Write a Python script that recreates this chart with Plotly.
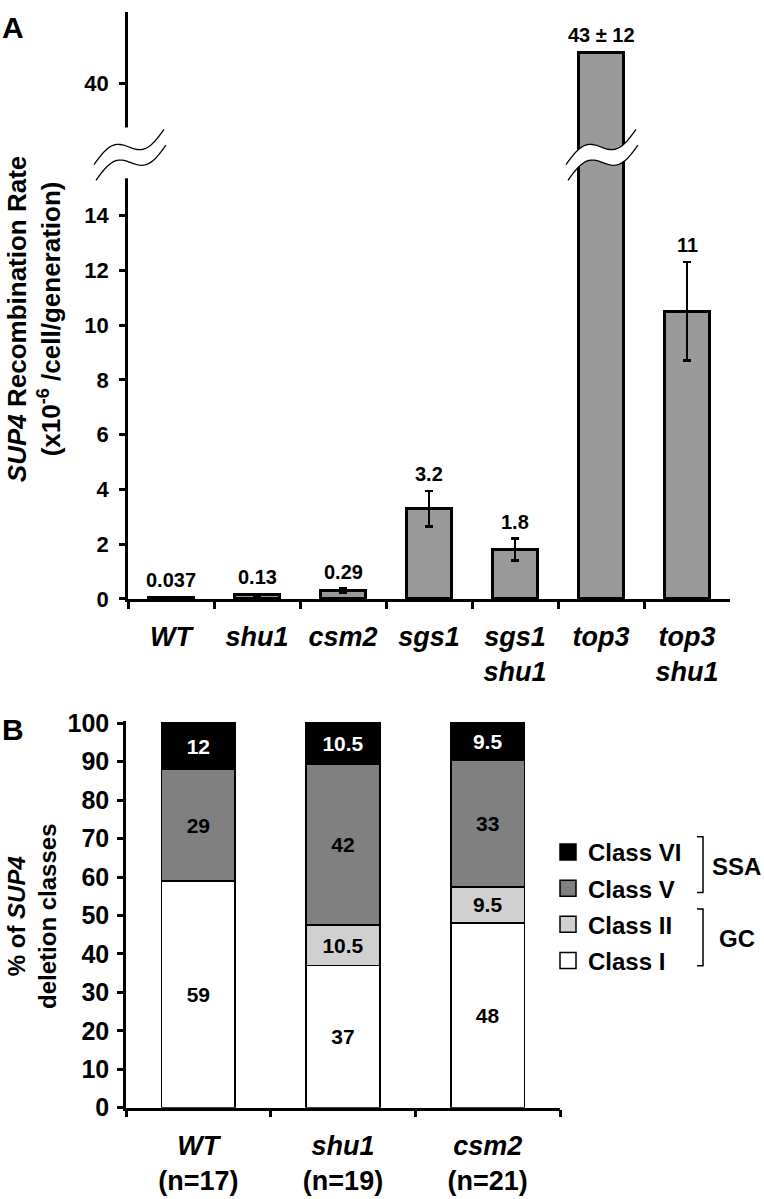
import math
import plotly.graph_objects as go

# ---------------- data ----------------
strains = ["WT", "shu1", "csm2", "sgs1", "sgs1 shu1", "top3", "top3 shu1"]
strain_ticks = ["<i>WT</i>", "<i>shu1</i>", "<i>csm2</i>", "<i>sgs1</i>",
                "<i>sgs1</i><br><i>shu1</i>", "<i>top3</i>", "<i>top3</i><br><i>shu1</i>"]
rate = [0.04, 0.15, 0.3, 3.3, 1.8, 43, 10.5]
rate_err = [0.02, 0.04, 0.08, 0.65, 0.4, 0, 1.8]
rate_labels = ["0.037", "0.13", "0.29", "3.2", "1.8", "43 ± 12", "11"]
lower_ticks = [0, 2, 4, 6, 8, 10, 12, 14]
upper_ticks = [40]

b_strains = ["WT", "shu1", "csm2"]
b_ticks = ["<i>WT</i><br>(n=17)", "<i>shu1</i><br>(n=19)", "<i>csm2</i><br>(n=21)"]
class_I = [59, 37, 48]
class_II = [0, 10.5, 9.5]
class_V = [29, 42, 33]
class_VI = [12, 10.5, 9.5]
class_I_txt = ["59", "37", "48"]
class_II_txt = ["", "10.5", "9.5"]
class_V_txt = ["29", "42", "33"]
class_VI_txt = ["12", "10.5", "9.5"]
b_ticks_y = list(range(0, 101, 10))

# ---------------- layout helpers ----------------
W, H = 764, 1199
def px(x):
    return x / W
def py(y):
    return 1 - y / H

FONT = "Liberation Sans, Arial, sans-serif"

# panel A geometry (pixels)
AX0, AX1 = 128, 730
A_ZERO, A_SPLIT = 600, 146
LOW_PPU = 28.0
UP_40, UP_PPU = 73, 10.67
low_range = [0, (A_ZERO - A_SPLIT) / LOW_PPU]
up_range = [40 - (A_SPLIT - UP_40) / UP_PPU, 40 + UP_40 / UP_PPU]

# panel B geometry
BX0, BX1 = 126, 560
B_ZERO, B_PPU = 1120, 3.93
b_top = 100.5

fig = go.Figure()

# ---------- Panel A ----------
fig.add_trace(go.Bar(
    x=strains, y=rate, xaxis="x", yaxis="y", width=0.52,
    marker=dict(color="#999999", line=dict(color="black", width=3)),
    error_y=dict(type="data", array=rate_err, visible=True, color="black",
                 thickness=2.5, width=4),
    showlegend=False, hoverinfo="skip"))
fig.add_trace(go.Bar(
    x=strains, y=rate, xaxis="x2", yaxis="y2", width=0.52,
    marker=dict(color="#999999", line=dict(color="black", width=3)),
    showlegend=False, hoverinfo="skip"))

annotations = []
for i, s in enumerate(strains):
    top = rate[i] + rate_err[i]
    upper = rate[i] > low_range[1]
    annotations.append(dict(
        x=s, y=top, xref="x2" if upper else "x", yref="y2" if upper else "y",
        text=rate_labels[i], showarrow=False, xanchor="center", yanchor="bottom",
        yshift=4, font=dict(family=FONT, size=20, color="black", weight="bold")))

# ---------- Panel B ----------
classes = [
    ("Class I", class_I, class_I_txt, "white", "black"),
    ("Class II", class_II, class_II_txt, "#d0d0d0", "black"),
    ("Class V", class_V, class_V_txt, "#808080", "black"),
    ("Class VI", class_VI, class_VI_txt, "black", "white"),
]
for name, vals, txt, col, tcol in classes:
    fig.add_trace(go.Bar(
        x=b_strains, y=vals, xaxis="x3", yaxis="y3", width=0.51, name=name,
        legendgroup=name, showlegend=False,
        marker=dict(color=col, line=dict(color="black", width=1.8)),
        text=txt, textposition="inside", insidetextanchor="middle",
        textangle=0, constraintext="none",
        textfont=dict(family=FONT, size=21, color=tcol, weight="bold"),
        hoverinfo="skip"))

# legend proxies (order: VI, V, II, I)
for name, vals, txt, col, tcol in classes[::-1]:
    fig.add_trace(go.Scatter(
        x=[None], y=[None], xaxis="x3", yaxis="y3", mode="markers", name=name,
        legendgroup=name,
        marker=dict(symbol="square", size=16, color=col,
                    line=dict(color="black", width=1.5))))

# ---------- break marks (decoration) ----------
def wave_pts(cx, cy, half=35, tilt=18, amp=10, n=40):
    pts = []
    for k in range(n + 1):
        t = -1 + 2 * k / n
        pts.append((cx + half * t, cy - tilt * t + amp * math.sin(math.pi * t)))
    return pts

def path_of(pts, close=False):
    s = "M " + " L ".join(f"{px(x):.5f},{py(y):.5f}" for x, y in pts)
    return s + (" Z" if close else "")

shapes = []
shapes.append(dict(type="rect", xref="paper", yref="paper",
                   x0=px(AX0 - 7), x1=px(AX0 + 6), y0=py(170), y1=py(118),
                   fillcolor="white", line=dict(width=0), layer="above"))
cat_w = (AX1 - AX0) / len(strains)
for cx in (AX0 + 1, AX0 + (strains.index("top3") + 0.5) * cat_w):
    up = wave_pts(cx, 138)
    lo = [(x + 2, y + 16) for x, y in up]
    shapes.append(dict(type="path", xref="paper", yref="paper",
                       path=path_of(up + lo[::-1], close=True),
                       fillcolor="white", line=dict(width=0), layer="above"))
    for pts in (up, lo):
        shapes.append(dict(type="path", xref="paper", yref="paper",
                           path=path_of(pts), line=dict(color="black", width=1.3),
                           layer="above"))

# legend brackets
for y0b, y1b in ((843, 900), (917, 975)):
    shapes.append(dict(type="path", xref="paper", yref="paper",
                       path=f"M {px(697)},{py(y0b)} L {px(703)},{py(y0b)} "
                            f"L {px(703)},{py(y1b)} L {px(697)},{py(y1b)}",
                       line=dict(color="black", width=1.5)))

def note(x, y, text, size, angle=0, yanchor="middle", yshift=0):
    return dict(x=px(x), y=py(y), xref="paper", yref="paper", text=text,
                showarrow=False, xanchor="center", yanchor=yanchor,
                textangle=angle, yshift=yshift,
                font=dict(family=FONT, size=size, color="black", weight="bold"))

annotations += [
    note(736, 873, "SSA", 24),
    note(737, 947, "GC", 24),
    note(13, 0, "A", 30, yanchor="top", yshift=3),
    note(13, 733, "B", 30),
    note(34, 314, "<i>SUP4</i> Recombination Rate<br>(x10<sup>-6</sup> /cell/generation)",
         26, -90),
    note(32, 925, "% of <i>SUP4</i><br>deletion classes", 24, -90),
]

axis_common = dict(showgrid=False, zeroline=False, linecolor="black",
                   tickcolor="black", ticks="outside")

fig.update_layout(
    width=W, height=H, margin=dict(l=0, r=0, t=0, b=0),
    paper_bgcolor="white", plot_bgcolor="white", barmode="stack",
    font=dict(family=FONT, color="black"),
    xaxis=dict(domain=[px(AX0), px(AX1)], anchor="y", type="category",
               range=[-0.5, len(strains) - 0.5], showline=True, linewidth=2.5,
               tickson="boundaries", ticklen=7, tickwidth=2.5,
               tickvals=strains, ticktext=strain_ticks, ticklabelstandoff=12,
               tickfont=dict(family=FONT, size=27, weight="bold"), **axis_common),
    yaxis=dict(domain=[py(A_ZERO), py(A_SPLIT)], anchor="x", range=low_range,
               tickvals=lower_ticks, showline=True, linewidth=2.5, ticklen=6,
               tickwidth=2.5, ticklabelstandoff=6,
               tickfont=dict(family=FONT, size=22, weight="bold"), **axis_common),
    xaxis2=dict(domain=[px(AX0), px(AX1)], anchor="y2", matches="x",
                visible=False),
    yaxis2=dict(domain=[py(A_SPLIT), 1], anchor="x2", range=up_range,
                tickvals=upper_ticks, showline=True, linewidth=2.5, ticklen=6,
                tickwidth=2.5, ticklabelstandoff=6,
                tickfont=dict(family=FONT, size=22, weight="bold"), **axis_common),
    xaxis3=dict(domain=[px(BX0), px(BX1)], anchor="y3", type="category",
                range=[-0.5, len(b_strains) - 0.5], showline=True, linewidth=2.5,
                tickson="boundaries", ticklen=7, tickwidth=2.5,
                tickvals=b_strains, ticktext=b_ticks, ticklabelstandoff=12,
                tickfont=dict(family=FONT, size=27, weight="bold"), **axis_common),
    yaxis3=dict(domain=[py(B_ZERO), py(B_ZERO - b_top * B_PPU)], anchor="x3",
                range=[0, b_top], tickvals=b_ticks_y, showline=True, linewidth=2.5,
                ticklen=6, tickwidth=2.5, ticklabelstandoff=3,
                tickfont=dict(family=FONT, size=25, weight="bold"), **axis_common),
    showlegend=True,
    legend=dict(x=px(548), y=py(836), xanchor="left", yanchor="top",
                traceorder="grouped", tracegroupgap=2, bgcolor="rgba(0,0,0,0)",
                font=dict(family=FONT, size=24, color="black", weight="bold")),
    shapes=shapes, annotations=annotations,
)

fig.write_html("out.html",
               config={"displayModeBar": False},
               post_script="document.body.style.margin='0px';"
                           "document.body.style.overflow='hidden';")
